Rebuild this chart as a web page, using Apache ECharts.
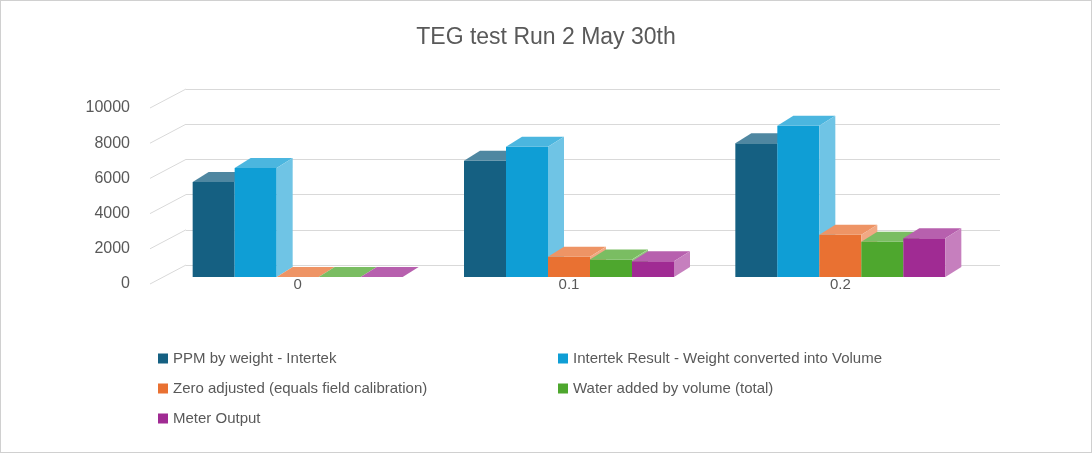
<!DOCTYPE html>
<html>
<head>
<meta charset="utf-8">
<script src="https://cdn.jsdelivr.net/npm/echarts@6/dist/echarts.min.js"></script>
<style>
  html, body { margin: 0; padding: 0; background: #fff; }
  #chart { width: 1090px; height: 451px; border: 1px solid #d0d0d0; }
</style>
</head>
<body>
<div id="chart"></div>
<script>
const categories = ['0', '0.1', '0.2'];
const seriesNames = [
  'PPM by weight - Intertek',
  'Intertek Result - Weight converted into Volume',
  'Zero adjusted (equals field calibration)',
  'Water added by volume (total)',
  'Meter Output'
];
const ppmByWeight = [5400, 6600, 7600];
const intertekVolume = [6200, 7400, 8600];
const zeroAdjusted = [0, 1150, 2400];
const waterAdded = [0, 1000, 2000];
const meterOutput = [0, 900, 2200];
const yTicks = [0, 2000, 4000, 6000, 8000, 10000];
const colors = ['#156082', '#0F9ED5', '#E97132', '#4EA72E', '#A02B93'];

const allValues = [ppmByWeight, intertekVolume, zeroAdjusted, waterAdded, meterOutput];

// depth offsets
const FRONT_DX = -24, FRONT_DY = 12;
const DEPTH_X = 16, DEPTH_Y = 10;
const BAR_W = 42;

function barRenderer(sIdx) {
  return function (params, api) {
    const cat = api.value(0);
    const val = api.value(1);
    const top = api.coord([cat, val]);
    const base = api.coord([cat, 0]);
    const cx = top[0] + FRONT_DX;
    const fl = cx - 2.5 * BAR_W + sIdx * BAR_W;
    const fr = fl + BAR_W;
    const ft = top[1] + FRONT_DY;
    const fb = base[1] + FRONT_DY;
    const c = colors[sIdx];
    return {
      type: 'group',
      children: [
        { type: 'rect', shape: { x: fl, y: ft, width: BAR_W, height: fb - ft }, style: { fill: c } },
        { type: 'polygon', shape: { points: [[fl, ft], [fl + DEPTH_X, ft - DEPTH_Y], [fr + DEPTH_X, ft - DEPTH_Y], [fr, ft]] },
          style: { fill: echarts.color.lift(c, 0.25) } },
        { type: 'polygon', shape: { points: [[fr, ft], [fr + DEPTH_X, ft - DEPTH_Y], [fr + DEPTH_X, fb - DEPTH_Y], [fr, fb]] },
          style: { fill: echarts.color.lift(c, 0.4) } }
      ]
    };
  };
}

const chart = echarts.init(document.getElementById('chart'));

const series = seriesNames.map((name, i) => ({
  name: name,
  type: 'custom',
  itemStyle: { color: colors[i] },
  renderItem: barRenderer(i),
  data: categories.map((c, k) => [k, allValues[i][k]]),
  z: 3
}));

series.push({
  type: 'custom',
  silent: true,
  z: 1,
  data: yTicks.map(v => [0, v]),
  renderItem: function (params, api) {
    const v = api.value(1);
    const p = api.coord([0, v]);
    const x0 = params.coordSys.x;
    return {
      type: 'group',
      children: [
        { type: 'line', shape: { x1: x0, y1: p[1], x2: x0 - 36, y2: p[1] + 19 }, style: { stroke: '#d9d9d9', lineWidth: 1 } },
        { type: 'text', style: { text: String(v), x: x0 - 56, y: p[1] + 19, align: 'right', verticalAlign: 'middle',
          fill: '#595959', font: '16px "Liberation Sans", Arial' } }
      ]
    };
  }
});

chart.setOption({
  animation: false,
  title: {
    text: 'TEG test Run 2 May 30th',
    left: 'center',
    top: 20,
    textStyle: { fontSize: 23, fontWeight: 'normal', color: '#595959', fontFamily: 'Liberation Sans, Arial' }
  },
  grid: { left: 185, right: 91, top: 88, bottom: 187 },
  xAxis: {
    type: 'category',
    data: categories,
    axisLine: { show: false },
    axisTick: { show: false },
    axisLabel: { margin: 12, padding: [0, 48, 0, 0], fontSize: 15, color: '#595959', fontFamily: 'Liberation Sans, Arial' }
  },
  yAxis: {
    type: 'value',
    min: 0,
    max: 10000,
    interval: 2000,
    axisLabel: { show: false },
    splitLine: { lineStyle: { color: '#d9d9d9' } }
  },
  legend: [
    {
      data: [seriesNames[0], seriesNames[2], seriesNames[4]],
      orient: 'vertical', left: 152, top: 345, itemGap: 15,
      itemWidth: 10, itemHeight: 10, icon: 'rect',
      textStyle: { fontSize: 15, color: '#595959', fontFamily: 'Liberation Sans, Arial' }
    },
    {
      data: [seriesNames[1], seriesNames[3]],
      orient: 'vertical', left: 552, top: 345, itemGap: 15,
      itemWidth: 10, itemHeight: 10, icon: 'rect',
      textStyle: { fontSize: 15, color: '#595959', fontFamily: 'Liberation Sans, Arial' }
    }
  ],
  series: series
});
</script>
</body>
</html>
